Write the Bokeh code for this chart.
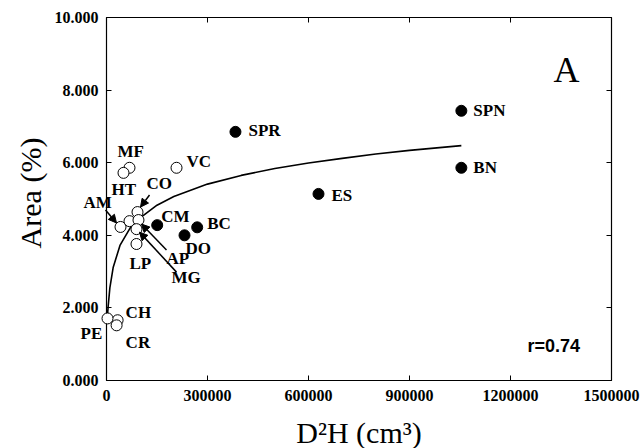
import math
from bokeh.plotting import figure
from bokeh.models import (LinearAxis, FixedTicker, NumeralTickFormatter, Range1d,
                          Arrow, NormalHead, Label, CustomJSTickFormatter)
from bokeh.embed import file_html
from bokeh.resources import INLINE

# ---- data ----
open_names = ["MF", "HT", "VC", "CO", "AM", "", "AP", "MG", "LP", "CH", "PE", "CR"]
open_x = [68300, 50500, 208000, 92100, 41600, 68300, 95000, 89100, 89100, 33000, 3000, 30000]
open_y = [5.86, 5.72, 5.86, 4.64, 4.23, 4.39, 4.42, 4.17, 3.76, 1.66, 1.71, 1.52]

filled_names = ["SPR", "SPN", "BN", "ES", "CM", "BC", "DO"]
filled_x = [383000, 1054000, 1054000, 629700, 150600, 269400, 231700]
filled_y = [6.85, 7.43, 5.86, 5.14, 4.28, 4.22, 4.00]

# fitted curve
curve_x = [2500, 5000, 10000, 20000, 40000, 70000, 100000, 150000, 200000, 300000,
           400000, 500000, 600000, 700000, 800000, 900000, 1054000]
curve_y = [1.75, 2.05, 2.55, 3.12, 3.72, 4.20, 4.48, 4.83, 5.07, 5.41,
           5.65, 5.84, 5.99, 6.12, 6.24, 6.34, 6.47]

x_ticks = [0, 300000, 600000, 900000, 1200000, 1500000]
y_ticks = [0, 2, 4, 6, 8, 10]

# label offsets in screen pixels (dx to left edge of text, dy to text middle; +dy = down)
open_off = {"MF": (-12, -16), "HT": (-12, 17), "VC": (10, -6), "CO": (9, -29),
            "AM": (-37, -24), "": (0, 0), "AP": (28, 38), "MG": (35, 48),
            "LP": (-7, 19), "CH": (8, -8), "PE": (-27, 15), "CR": (9, 17)}
filled_off = {"SPR": (13, -1), "SPN": (12, 0), "BN": (12, 0), "ES": (13, 2),
              "CM": (4, -9), "BC": (10, -4), "DO": (1, 13)}

# arrows: name -> (start offset px, end offset px) relative to the point
arrow_off = {"AM": ((-15, -17), (-4, -4)), "CO": ((12, -17), (3, -5)),
             "AP": ((28, 30), (3, 4)), "MG": ((40, 43), (3, 3))}

# ---- layout: the frame covers the whole canvas; the data box sits inside it ----
W, H = 644, 448
X0, X1, Y0, Y1 = 0, 1500000, 0, 10
BOX_L, BOX_T, BOX_W, BOX_H = 106, 17, 505, 363
dxp = (X1 - X0) / BOX_W          # data units per pixel
dyp = (Y1 - Y0) / BOX_H
XL = X0 - BOX_L * dxp
XR = X1 + (W - BOX_L - BOX_W) * dxp
YT = Y1 + BOX_T * dyp
YB = Y0 - (H - BOX_T - BOX_H) * dyp

p = figure(width=W, height=H, output_backend="svg", toolbar_location=None,
           x_range=Range1d(XL, XR), y_range=Range1d(YB, YT),
           x_axis_location=None, y_axis_location=None,
           min_border=0, min_border_left=0, min_border_right=0,
           min_border_top=0, min_border_bottom=0,
           background_fill_color="white", border_fill_color="white")
p.xgrid.grid_line_color = None
p.ygrid.grid_line_color = None
p.outline_line_color = None

serif = "Liberation Serif"
blank = CustomJSTickFormatter(code="return ''")

def make_axis(ticks, loc, fmt, standoff):
    ax = LinearAxis(ticker=FixedTicker(ticks=ticks), fixed_location=loc, formatter=fmt,
                    major_tick_in=5, major_tick_out=0, minor_tick_line_color=None,
                    axis_line_color=None, major_tick_line_color="black",
                    major_label_text_font=serif, major_label_text_font_style="bold",
                    major_label_text_font_size="16px", major_label_text_color="black",
                    major_label_standoff=standoff)
    return ax

p.add_layout(make_axis(x_ticks, Y0, NumeralTickFormatter(format="0"), 9), "below")
p.add_layout(make_axis(y_ticks, X0, NumeralTickFormatter(format="0.000"), 8), "left")
p.add_layout(make_axis(x_ticks, Y1, blank, 0), "above")
p.add_layout(make_axis(y_ticks, X1, blank, 0), "right")

# plot box
p.quad(left=[X0], right=[X1], bottom=[Y0], top=[Y1], fill_color=None,
       line_color="black", line_width=1.2)

# curve
p.line(curve_x, curve_y, line_color="black", line_width=1.6)

# points
p.scatter(open_x, open_y, size=11, fill_color="white", line_color="black", line_width=1)
p.scatter(filled_x, filled_y, size=11, fill_color="black", line_color="black")

# point labels
def add_labels(names, xs, ys, offs):
    for n, x, y in zip(names, xs, ys):
        if not n:
            continue
        dx, dy = offs[n]
        p.add_layout(Label(x=x, y=y, x_offset=dx, y_offset=-dy, text=n,
                           text_font=serif, text_font_style="bold", text_font_size="17px",
                           text_baseline="middle", text_align="left", text_color="black"))

add_labels(open_names, open_x, open_y, open_off)
add_labels(filled_names, filled_x, filled_y, filled_off)

# arrows
for name, ((ax0, ay0), (ax1, ay1)) in arrow_off.items():
    i = open_names.index(name)
    px, py = open_x[i], open_y[i]
    p.add_layout(Arrow(x_start=px + ax0 * dxp, y_start=py - ay0 * dyp,
                       x_end=px + ax1 * dxp, y_end=py - ay1 * dyp,
                       line_color="black", line_width=1.5,
                       end=NormalHead(size=8, fill_color="black", line_color="black")))

# axis titles
p.add_layout(Label(x=(X0 + X1) / 2, y=Y0 - 52 * dyp, text="D²H (cm³)",
                   text_align="center", text_baseline="middle",
                   text_font=serif, text_font_size="30px", text_color="black"))
p.add_layout(Label(x=X0 - 76 * dxp, y=(Y0 + Y1) / 2 + 6 * dyp, text="Area (%)",
                   angle=math.pi / 2, text_align="center", text_baseline="middle",
                   text_font=serif, text_font_size="30px", text_color="black"))

# panel letter and r value
p.add_layout(Label(x=1366000, y=8.56, text="A", text_align="center", text_baseline="alphabetic",
                   text_font=serif, text_font_size="36px", text_color="black"))
p.add_layout(Label(x=1250500, y=0.94, text="r=0.74", text_align="left", text_baseline="middle",
                   text_font="Liberation Sans", text_font_style="bold", text_font_size="18px",
                   text_color="black"))

open("out.html", "w").write(file_html(p, INLINE))
